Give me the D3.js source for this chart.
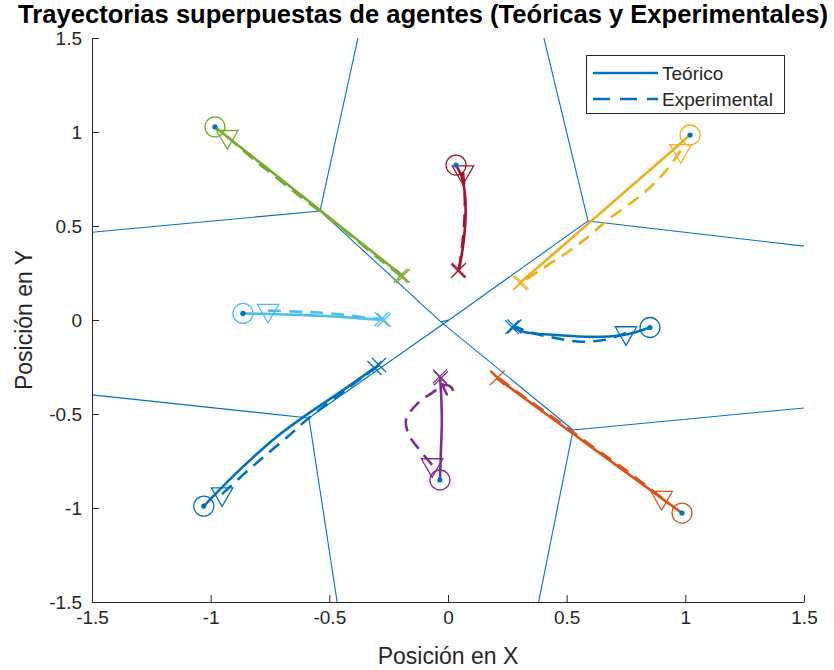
<!DOCTYPE html>
<html>
<head>
<meta charset="utf-8">
<script src="https://cdn.jsdelivr.net/npm/d3@7"></script>
<style>
  html, body { margin: 0; padding: 0; background: #fff; }
  svg { display: block; }
  text { font-family: "Liberation Sans", Arial, Helvetica, sans-serif; }
</style>
</head>
<body>
<svg id="chart" width="834" height="670"></svg>
<script>
// ---------------- DATA ----------------
const titleText = "Trayectorias superpuestas de agentes (Teóricas y Experimentales)";
const xLabel = "Posición en X";
const yLabel = "Posición en Y";
const xTicks = [-1.5, -1, -0.5, 0, 0.5, 1, 1.5];
const yTicks = [-1.5, -1, -0.5, 0, 0.5, 1, 1.5];
const legendLabels = ["Teórico", "Experimental"];

const agentColors = ["#77AC30", "#A2142F", "#EDB120", "#4DBEEE", "#0072BD", "#0072BD", "#7E2F8E", "#D95319"];

// Theoretical trajectories (solid)
const theoPaths = [
  [[-0.982, 1.027], [-0.80, 0.845], [-0.62, 0.665], [-0.45, 0.494], [-0.30, 0.344], [-0.19, 0.234]],
  [[0.034, 0.824], [0.058, 0.76], [0.072, 0.66], [0.074, 0.55], [0.068, 0.44], [0.058, 0.35], [0.046, 0.266]],
  [[1.02, 0.984], [0.80, 0.742], [0.60, 0.523], [0.45, 0.358], [0.303, 0.197]],
  [[-0.864, 0.035], [-0.75, 0.032], [-0.62, 0.027], [-0.50, 0.02], [-0.38, 0.01], [-0.27, 0.0]],
  [[0.851, -0.04], [0.74, -0.08], [0.60, -0.09], [0.46, -0.08], [0.32, -0.064], [0.27, -0.038]],
  [[-1.029, -0.99], [-0.88, -0.80], [-0.72, -0.62], [-0.58, -0.49], [-0.45, -0.38], [-0.291, -0.239]],
  [[-0.034, -0.851], [-0.030, -0.70], [-0.026, -0.55], [-0.028, -0.42], [-0.034, -0.30]],
  [[0.986, -1.027], [0.80, -0.856], [0.60, -0.672], [0.40, -0.488], [0.206, -0.309]]
];

// Experimental trajectories (dashed)
const expPaths = [
  [[-0.93, 0.975], [-0.80, 0.835], [-0.62, 0.655], [-0.45, 0.49], [-0.30, 0.335], [-0.20, 0.235]],
  [[0.063, 0.787], [0.070, 0.68], [0.070, 0.56], [0.064, 0.45], [0.056, 0.36], [0.050, 0.30], [0.042, 0.26]],
  [[0.98, 0.90], [0.923, 0.80], [0.838, 0.69], [0.746, 0.60], [0.67, 0.53], [0.598, 0.45], [0.514, 0.37], [0.43, 0.30], [0.31, 0.20]],
  [[-0.758, 0.05], [-0.65, 0.045], [-0.55, 0.04], [-0.45, 0.03], [-0.36, 0.015], [-0.28, 0.005]],
  [[0.75, -0.069], [0.66, -0.105], [0.55, -0.115], [0.45, -0.095], [0.36, -0.07], [0.28, -0.035]],
  [[-0.952, -0.926], [-0.834, -0.79], [-0.75, -0.70], [-0.666, -0.61], [-0.59, -0.525], [-0.45, -0.39], [-0.31, -0.255]],
  [[-0.067, -0.771], [-0.12, -0.69], [-0.16, -0.622], [-0.177, -0.532], [-0.126, -0.441], [-0.067, -0.388], [-0.017, -0.346], [0.015, -0.36], [0.02, -0.39], [0.0, -0.40], [-0.015, -0.37], [-0.03, -0.31]],
  [[0.90, -0.945], [0.75, -0.80], [0.60, -0.665], [0.45, -0.525], [0.30, -0.39], [0.21, -0.305]]
];

// Voronoi diagram vertices and edges
const voronoiVertices = {
  c1: [-0.03, -0.01], c2: [0.004, 0.0],
  vg: [-0.539, 0.58], vy: [0.59, 0.527], vl: [-0.586, -0.521], vo: [0.527, -0.585],
  b1: [-0.362, 1.6], b2: [-1.6, 0.455], b3: [0.385, 1.6], b4: [1.6, 0.378],
  b5: [-1.6, -0.385], b6: [-0.455, -1.6], b7: [1.6, -0.456], b8: [0.366, -1.6]
};
const voronoiEdges = [
  ["vg", "b1"], ["vg", "b2"], ["vg", "c1"],
  ["vy", "b3"], ["vy", "b4"], ["vy", "c2"],
  ["vl", "b5"], ["vl", "b6"], ["vl", "c2"],
  ["vo", "b7"], ["vo", "b8"], ["vo", "c1"],
  ["c1", "c2"]
];

// ---------------- CHART ----------------
const svg = d3.select("#chart");
const x = d3.scaleLinear().domain([-1.5, 1.5]).range([92, 804]);
const y = d3.scaleLinear().domain([-1.5, 1.5]).range([602, 38]);
const axisColor = "#262626";
const fmt = d => String(d);

svg.append("rect").attr("width", 834).attr("height", 670).attr("fill", "#fff");

svg.append("defs").append("clipPath").attr("id", "plotclip")
  .append("rect").attr("x", 92).attr("y", 38).attr("width", 712).attr("height", 564);

const plot = svg.append("g").attr("clip-path", "url(#plotclip)");

// Voronoi
plot.append("g").selectAll("line").data(voronoiEdges).join("line")
  .attr("x1", d => x(voronoiVertices[d[0]][0])).attr("y1", d => y(voronoiVertices[d[0]][1]))
  .attr("x2", d => x(voronoiVertices[d[1]][0])).attr("y2", d => y(voronoiVertices[d[1]][1]))
  .attr("stroke", "#0072BD").attr("stroke-width", 1.1).attr("fill", "none");

const line = d3.line().x(d => x(d[0])).y(d => y(d[1])).curve(d3.curveCatmullRom.alpha(0.5));

const agents = agentColors.map((c, i) => ({ color: c, theo: theoPaths[i], exp: expPaths[i] }));

const ag = plot.append("g").selectAll("g").data(agents).join("g");

ag.append("path").attr("d", d => line(d.theo))
  .attr("fill", "none").attr("stroke", d => d.color).attr("stroke-width", 2.6)
  .attr("stroke-linejoin", "round");

ag.append("path").attr("d", d => line(d.exp))
  .attr("fill", "none").attr("stroke", d => d.color).attr("stroke-width", 2.6)
  .attr("stroke-dasharray", "13,8");

// start circles
ag.append("circle")
  .attr("cx", d => x(d.theo[0][0])).attr("cy", d => y(d.theo[0][1])).attr("r", 10)
  .attr("fill", "none").attr("stroke", d => d.color).attr("stroke-width", 1.3);

// experimental start triangles (pointing down)
const tri = d3.symbol().type(d3.symbolTriangle).size(200);
ag.append("path")
  .attr("d", tri)
  .attr("transform", d => `translate(${x(d.exp[0][0])},${y(d.exp[0][1])}) rotate(180)`)
  .attr("fill", "none").attr("stroke", d => d.color).attr("stroke-width", 1.3);

// end 'x' markers
const xm = 7;
function xMark(px, py) {
  return `M${px - xm},${py - xm}L${px + xm},${py + xm}M${px - xm},${py + xm}L${px + xm},${py - xm}`;
}
ag.append("path")
  .attr("d", d => {
    const t = d.theo[d.theo.length - 1], e = d.exp[d.exp.length - 1];
    return xMark(x(t[0]), y(t[1])) + xMark(x(e[0]), y(e[1]));
  })
  .attr("fill", "none").attr("stroke", d => d.color).attr("stroke-width", 1.3);

// generator dots
plot.append("g").selectAll("circle").data(agents).join("circle")
  .attr("cx", d => x(d.theo[0][0])).attr("cy", d => y(d.theo[0][1])).attr("r", 2.6)
  .attr("fill", "#0072BD");

// Axes
const gx = svg.append("g").attr("transform", "translate(0,602)")
  .call(d3.axisBottom(x).tickValues(xTicks).tickFormat(fmt).tickSizeInner(-7).tickSizeOuter(0).tickPadding(9));
const gy = svg.append("g").attr("transform", "translate(92,0)")
  .call(d3.axisLeft(y).tickValues(yTicks).tickFormat(fmt).tickSizeInner(-7).tickSizeOuter(0).tickPadding(10));
[gx, gy].forEach(g => {
  g.select(".domain").attr("stroke", axisColor).attr("stroke-width", 1);
  g.selectAll(".tick line").attr("stroke", axisColor).attr("stroke-width", 1);
  g.selectAll(".tick text").attr("fill", axisColor).style("font-size", "19px")
    .style("font-family", "'Liberation Sans', Arial, sans-serif");
});

// Axis labels
svg.append("text").attr("x", 448).attr("y", 664).attr("text-anchor", "middle")
  .attr("fill", axisColor).style("font-size", "23px").text(xLabel);
svg.append("text").attr("transform", "translate(32,320) rotate(-90)").attr("text-anchor", "middle")
  .attr("fill", axisColor).style("font-size", "23px").text(yLabel);

// Title
const title = svg.append("text").attr("x", 423).attr("y", 23).attr("text-anchor", "middle")
  .attr("fill", "#000").style("font-size", "22px").style("font-weight", "bold").text(titleText);
const tw = title.node().getComputedTextLength();
if (tw > 0) title.style("font-size", (22 * 810 / tw).toFixed(2) + "px");

// Legend
const lg = svg.append("g");
lg.append("rect").attr("x", 586.5).attr("y", 55.5).attr("width", 198).attr("height", 58)
  .attr("fill", "#fff").attr("stroke", axisColor).attr("stroke-width", 1);
const legY = [73, 99];
lg.selectAll("line.leg").data(legendLabels).join("line")
  .attr("x1", 593).attr("x2", 658)
  .attr("y1", (d, i) => legY[i]).attr("y2", (d, i) => legY[i])
  .attr("stroke", "#0072BD").attr("stroke-width", 2.6)
  .attr("stroke-dasharray", (d, i) => i === 1 ? "17,10" : null);
lg.selectAll("text.leg").data(legendLabels).join("text")
  .attr("x", 662).attr("y", (d, i) => legY[i]).attr("dy", "0.35em")
  .attr("fill", axisColor).style("font-size", "19px").text(d => d);
</script>
</body>
</html>
